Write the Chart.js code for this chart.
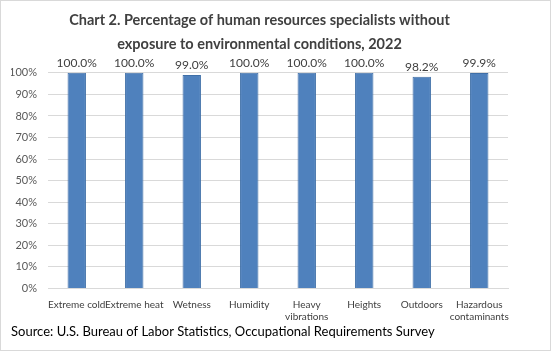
<!DOCTYPE html>
<html><head><meta charset="utf-8">
<script src="https://cdn.jsdelivr.net/npm/chart.js@4/dist/chart.umd.min.js"></script>
<style>
html,body{margin:0;padding:0;background:#fff;}
#wrap{width:551px;height:351px;box-sizing:border-box;border:1px solid #d9d9d9;position:relative;}
canvas{display:block;}
</style></head><body>
<div id="wrap"><canvas id="c" width="549" height="349"></canvas></div>
<script>
const categories = ["Extreme cold","Extreme heat","Wetness","Humidity",["Heavy","vibrations"],"Heights","Outdoors",["Hazardous","contaminants"]];
const values = [100.0,100.0,99.0,100.0,100.0,100.0,98.2,99.9];
const valueLabels = ["100.0%","100.0%","99.0%","100.0%","100.0%","100.0%","98.2%","99.9%"];
const yTicks = [0,10,20,30,40,50,60,70,80,90,100];

const FONT = "Lato, 'Liberation Sans', sans-serif";

const labelPlugin = {
  id:'valLabels',
  afterDatasetsDraw(chart){
    const ctx = chart.ctx;
    const meta = chart.getDatasetMeta(0);
    ctx.save();
    ctx.font = "12px " + FONT;
    ctx.fillStyle = "#404040";
    ctx.textAlign = "center";
    ctx.textBaseline = "bottom";
    meta.data.forEach((bar,i)=>{
      ctx.fillText(valueLabels[i], bar.x, bar.y - 4);
    });
    ctx.restore();
  }
};

new Chart(document.getElementById('c'), {
  type:'bar',
  data:{labels:categories, datasets:[{data:values, backgroundColor:'#4f81bd', borderColor:'#3f6fa8', borderWidth:1, categoryPercentage:1, barPercentage:0.32}]},
  options:{
    responsive:false, animation:false,
    layout:{padding:{left:10,right:42,top:0,bottom:10}},
    plugins:{
      legend:{display:false}, tooltip:{enabled:false},
      title:{display:true, text:["Chart 2. Percentage of human resources specialists without","exposure to environmental conditions, 2022"], color:'#404040', font:{family:FONT,size:14.5,weight:'bold',lineHeight:1.65}, padding:{top:7,bottom:17}},
      subtitle:{display:true, position:'bottom', align:'start', text:"Source: U.S. Bureau of Labor Statistics, Occupational Requirements Survey", color:'#000', font:{family:FONT,size:13}, padding:{top:0,bottom:0}}
    },
    scales:{
      x:{grid:{display:false, drawTicks:false}, border:{color:'#d9d9d9'}, ticks:{color:'#404040', font:{family:FONT,size:10}, maxRotation:0, autoSkip:false, padding:10},
         afterFit(s){ s.height = 36; }},
      y:{min:0,max:100, afterBuildTicks(s){s.ticks = yTicks.map(v=>({value:v}));}, grid:{color:'#d9d9d9', drawTicks:false}, border:{display:false}, ticks:{color:'#595959', font:{family:FONT,size:11}, padding:11, callback:v=>v+'%'},
         afterFit(s){ s.width = 37; }}
    }
  },
  plugins:[labelPlugin]
});
</script>
</body></html>
